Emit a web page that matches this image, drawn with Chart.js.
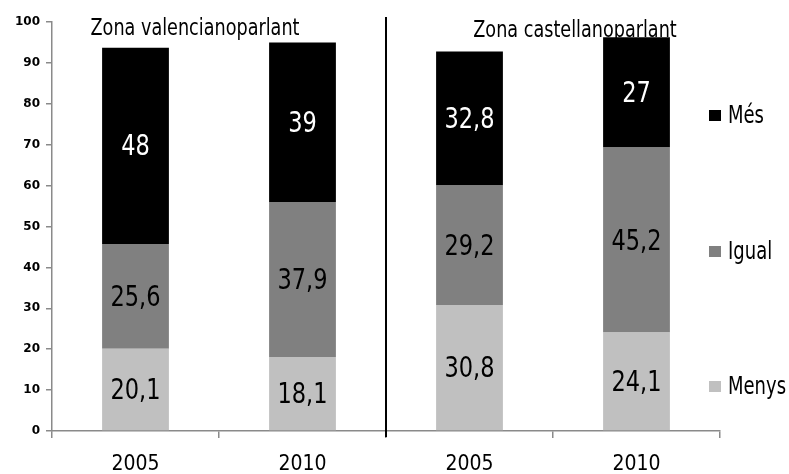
<!DOCTYPE html>
<html>
<head>
<meta charset="utf-8">
<script src="https://cdn.jsdelivr.net/npm/chart.js@4/dist/chart.umd.min.js"></script>
<style>
  html, body { margin: 0; padding: 0; background: #ffffff; }
  #wrap { width: 789px; height: 474px; position: relative; }
</style>
</head>
<body>
<div id="wrap"><canvas id="c" width="789" height="474"></canvas></div>
<script>
// ---- data ----
const categories = ["2005", "2010", "2005", "2010"];
const groupTitles = ["Zona valencianoparlant", "Zona castellanoparlant"];
const seriesNames = ["Menys", "Igual", "Més"];
const menys = [20.1, 18.1, 30.8, 24.1];
const igual = [25.6, 37.9, 29.2, 45.2];
const mes = [48, 39, 32.8, 27];
const yTicks = [0, 10, 20, 30, 40, 50, 60, 70, 80, 90, 100];

// ---- styles ----
const FONT = "'DejaVu Sans Condensed', 'DejaVu Sans', sans-serif";
const colors = { "Menys": "#c0c0c0", "Igual": "#808080", "Més": "#000000" };
const labelColors = { "Menys": "#000000", "Igual": "#000000", "Més": "#ffffff" };
const axisColor = "#8a8a8a";

const fmt = v => String(v).replace(".", ",");

const datasets = [
  { label: seriesNames[0], data: menys },
  { label: seriesNames[1], data: igual },
  { label: seriesNames[2], data: mes }
].map(d => ({
  ...d,
  backgroundColor: colors[d.label],
  borderWidth: 0,
  barPercentage: 0.4,
  categoryPercentage: 1.0
}));

function tallText(ctx, text, x, y, sy) {
  ctx.save();
  ctx.translate(x, y);
  ctx.scale(1, sy);
  ctx.fillText(text, 0, 0);
  ctx.restore();
}

const overlay = {
  id: "overlay",
  afterDatasetsDraw(chart) {
    const ctx = chart.ctx;
    const area = chart.chartArea;
    const xs = chart.scales.x;
    // data labels
    ctx.save();
    ctx.font = "25px " + FONT;
    ctx.textAlign = "center";
    ctx.textBaseline = "middle";
    chart.data.datasets.forEach((ds, di) => {
      const meta = chart.getDatasetMeta(di);
      meta.data.forEach((bar, i) => {
        const props = bar.getProps(["x", "y", "base"], true);
        const cy = (props.y + props.base) / 2;
        ctx.fillStyle = labelColors[ds.label];
        tallText(ctx, fmt(ds.data[i]), props.x, cy + 2, 1.16);
      });
    });
    ctx.restore();

    // divider between groups
    const divX = (xs.getPixelForValue(1) + xs.getPixelForValue(2)) / 2;
    ctx.save();
    ctx.strokeStyle = "#000000";
    ctx.lineWidth = 2;
    ctx.beginPath();
    ctx.moveTo(divX, area.top - 5);
    ctx.lineTo(divX, area.bottom + 6);
    ctx.stroke();
    ctx.restore();

    // group titles
    ctx.save();
    ctx.font = "19.6px " + FONT;
    ctx.fillStyle = "#000000";
    ctx.textAlign = "center";
    ctx.textBaseline = "alphabetic";
    const g1 = (xs.getPixelForValue(0) + xs.getPixelForValue(1)) / 2;
    const g2 = (xs.getPixelForValue(2) + xs.getPixelForValue(3)) / 2;
    tallText(ctx, groupTitles[0], g1 - 24, 35, 1.19);
    tallText(ctx, groupTitles[1], g2 + 22, 37, 1.19);
    ctx.restore();

    // legend
    ctx.save();
    ctx.font = "20px " + FONT;
    ctx.textAlign = "left";
    ctx.textBaseline = "middle";
    const legendY = { "Més": 116, "Igual": 252, "Menys": 387 };
    ["Més", "Igual", "Menys"].forEach(name => {
      const y = legendY[name];
      ctx.fillStyle = colors[name];
      ctx.fillRect(709, y - 6, 12, 11);
      ctx.fillStyle = "#000000";
      tallText(ctx, name, 728, y + 1, 1.2);
    });
    ctx.restore();
  }
};

new Chart(document.getElementById("c"), {
  type: "bar",
  data: { labels: categories, datasets },
  options: {
    responsive: false,
    animation: false,
    devicePixelRatio: 1,
    layout: { padding: { top: 22, right: 69, left: 0, bottom: 0 } },
    plugins: { legend: { display: false }, tooltip: { enabled: false } },
    scales: {
      x: {
        stacked: true,
        afterFit: s => { s.height = 43; },
        grid: { drawOnChartArea: false, offset: true, tickLength: 7, color: axisColor, lineWidth: 1.5 },
        border: { color: axisColor, width: 1.5 },
        ticks: { color: "#000000", font: { family: FONT, size: 21 }, padding: 14, maxRotation: 0 }
      },
      y: {
        stacked: true,
        min: 0, max: 100,
        afterBuildTicks: s => { s.ticks = yTicks.map(v => ({ value: v })); },
        afterFit: s => { s.width = 52; },
        grid: { drawOnChartArea: false, tickLength: 6, color: axisColor, lineWidth: 1.5 },
        border: { color: axisColor, width: 1.5 },
        ticks: { color: "#000000", font: { family: "'DejaVu Sans', sans-serif", size: 12, weight: "bold" }, padding: 6 }
      }
    }
  },
  plugins: [overlay]
});
</script>
</body>
</html>
